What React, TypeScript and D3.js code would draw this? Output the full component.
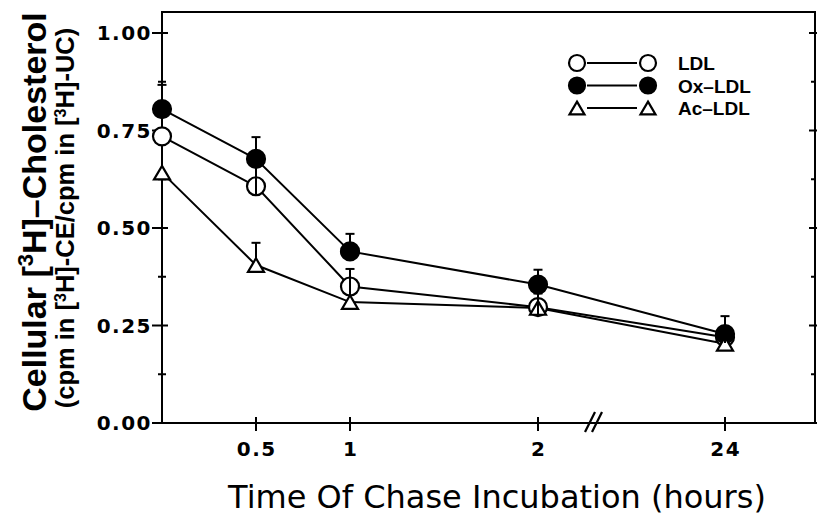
import React from "react";
import * as d3 from "d3";

const times = [0, 0.5, 1, 2, 24];
const ldl = [0.735, 0.607, 0.35, 0.297, 0.22];
const oxLdl = [0.805, 0.677, 0.44, 0.355, 0.228];
const acLdl = [0.642, 0.405, 0.31, 0.295, 0.203];
const ldlErr = [null, 0.06, 0.045, 0.035, null];
const oxErr = [0.062, 0.056, 0.045, 0.038, 0.046];
const acErr = [null, 0.057, null, null, null];

const xTicks = [0.5, 1, 2, 24];
const xTickLabels = ["0.5", "1", "2", "24"];
const yTicks = [0, 0.25, 0.5, 0.75, 1.0];
const yTickLabels = ["0.00", "0.25", "0.50", "0.75", "1.00"];
const yMinorTicks = [0.125, 0.375, 0.625, 0.875];

const legendLabels = ["LDL", "Ox\u2013LDL", "Ac\u2013LDL"];

const W = 820;
const H = 517;
const left = 162;
const right = 815;
const top = 12;
const bottom = 423;

const x = d3.scaleLinear().domain([0, 2, 24]).range([left, 538, 725]);
const y = d3.scaleLinear().domain([0, 1]).range([bottom, 33]);

type Kind = "open" | "filled" | "tri";
const series: { kind: Kind; vals: number[]; errs: (number | null)[] }[] = [
  { kind: "open", vals: ldl, errs: ldlErr },
  { kind: "filled", vals: oxLdl, errs: oxErr },
  { kind: "tri", vals: acLdl, errs: acErr },
];

const R = 9;
const TRI = 16;

function Marker({ kind, cx, cy, r = R, side = TRI }: { kind: Kind; cx: number; cy: number; r?: number; side?: number }) {
  if (kind === "tri") {
    const h = side * 0.85;
    const p = `M${cx},${cy - h / 2} L${cx + side / 2},${cy + h / 2} L${cx - side / 2},${cy + h / 2} Z`;
    return <path d={p} fill="#fff" stroke="#000" strokeWidth={2.2} strokeLinejoin="miter" />;
  }
  return (
    <circle
      cx={cx}
      cy={cy}
      r={r}
      fill={kind === "filled" ? "#000" : "#fff"}
      stroke="#000"
      strokeWidth={2.2}
    />
  );
}

const tickFont = "'DejaVu Sans', sans-serif";
const labelFont = "'Liberation Sans', Arial, sans-serif";

export default function App() {
  const line = d3
    .line<number>()
    .x((_, i) => x(times[i]))
    .y((v) => y(v));

  return (
    <svg
      width={W}
      height={H}
      style={{ position: "absolute", left: 0, top: 0, background: "#fff" }}
    >
      {/* frame */}
      <rect x={left} y={top} width={right - left} height={bottom - top} fill="none" stroke="#000" strokeWidth={2} />

      {/* y ticks left & right */}
      {yTicks.map((t, i) => (
        <g key={"yt" + i}>
          <line x1={left - 10} x2={left + 6} y1={y(t)} y2={y(t)} stroke="#000" strokeWidth={2} />
          <line x1={right - 6} x2={right + 2} y1={y(t)} y2={y(t)} stroke="#000" strokeWidth={2} />
          <text
            x={152}
            y={y(t) + 7}
            textAnchor="end"
            fontFamily={tickFont}
            fontWeight="bold"
            fontSize={20}
            letterSpacing={1.5}
          >
            {yTickLabels[i]}
          </text>
        </g>
      ))}
      {yMinorTicks.map((t, i) => (
        <g key={"ym" + i}>
          <line x1={left - 4} x2={left + 4} y1={y(t)} y2={y(t)} stroke="#000" strokeWidth={2} />
          <line x1={right - 4} x2={right} y1={y(t)} y2={y(t)} stroke="#000" strokeWidth={2} />
        </g>
      ))}

      {/* x ticks */}
      {xTicks.map((t, i) => (
        <g key={"xt" + i}>
          <line x1={x(t)} x2={x(t)} y1={bottom - 6} y2={bottom + 8} stroke="#000" strokeWidth={2} />
          <text
            x={x(t) + 0.75}
            y={456}
            textAnchor="middle"
            fontFamily={tickFont}
            fontWeight="bold"
            fontSize={20}
            letterSpacing={1.5}
          >
            {xTickLabels[i]}
          </text>
        </g>
      ))}

      {/* axis break */}
      <g stroke="#000" strokeWidth={2.2}>
        <line x1={585} y1={432} x2={595} y2={412} />
        <line x1={592} y1={432} x2={602} y2={412} />
      </g>

      {/* series lines */}
      {series.map((s, i) => (
        <path key={"l" + i} d={line(s.vals) || ""} fill="none" stroke="#000" strokeWidth={2} />
      ))}

      {/* markers */}
      {series.map((s, i) =>
        s.vals.map((v, j) => <Marker key={`m${i}-${j}`} kind={s.kind} cx={x(times[j])} cy={y(v)} />)
      )}

      {/* error bars (upper) */}
      {series.map((s, i) =>
        s.errs.map((e, j) => {
          if (e == null) return null;
          const cx = x(times[j]);
          const cy = y(s.vals[j]);
          const start = s.kind === "tri" ? cy - TRI * 0.42 : cy + R;
          const yc = y(s.vals[j] + e);
          return (
            <g key={`e${i}-${j}`} stroke="#000" strokeWidth={2}>
              <line x1={cx} x2={cx} y1={start} y2={yc} />
              <line x1={cx - 4.5} x2={cx + 4.5} y1={yc} y2={yc} />
            </g>
          );
        })
      )}

      {/* legend */}
      {series.map((s, i) => {
        const ly = 63 + i * 22.5;
        return (
          <g key={"lg" + i}>
            <line x1={587} x2={637} y1={ly} y2={ly} stroke="#000" strokeWidth={1.8} />
            <Marker kind={s.kind} cx={577} cy={ly} r={8} side={15} />
            <Marker kind={s.kind} cx={648} cy={ly} r={8} side={15} />
            <text
              x={678}
              y={ly + 7}
              fontFamily={labelFont}
              fontWeight="bold"
              fontSize={19}
            >
              {legendLabels[i]}
            </text>
          </g>
        );
      })}

      {/* y title */}
      <text
        transform={`translate(46, 212) rotate(-90)`}
        textAnchor="middle"
        fontFamily={labelFont}
        fontWeight="bold"
        fontSize={34}
      >
        <tspan>Cellular [</tspan>
        <tspan dy={-13} fontSize={22}>3</tspan>
        <tspan dy={13}>H]–Cholesterol</tspan>
      </text>
      <text
        transform={`translate(74, 218) rotate(-90)`}
        textAnchor="middle"
        fontFamily={labelFont}
        fontWeight="bold"
        fontSize={25.5}
      >
        <tspan>(cpm in [</tspan>
        <tspan dy={-8} fontSize={16}>3</tspan>
        <tspan dy={8}>H]-CE/cpm in [</tspan>
        <tspan dy={-8} fontSize={16}>3</tspan>
        <tspan dy={8}>H]-UC)</tspan>
      </text>

      {/* x title */}
      <text
        x={497}
        y={508}
        textAnchor="middle"
        fontFamily={tickFont}
        fontSize={32}
      >
        Time Of Chase Incubation (hours)
      </text>
    </svg>
  );
}
